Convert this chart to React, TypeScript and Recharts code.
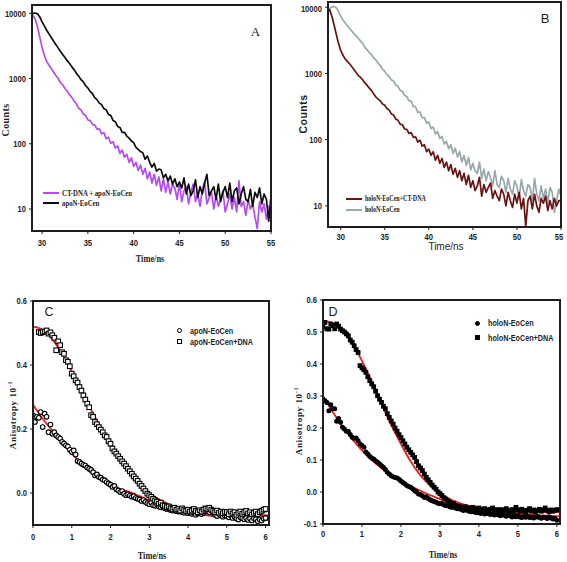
import {
  LineChart,
  Line,
  ComposedChart,
  Scatter,
  XAxis,
  YAxis,
} from 'recharts'

// ---- lifetime decays (panels A and B), 0.25 ns channels ----
const TIME = [
  28.5, 28.75,
  29, 29.25, 29.5, 29.75, 30, 30.25, 30.5, 30.75, 31, 31.25, 31.5, 31.75,
  32, 32.25, 32.5, 32.75, 33, 33.25, 33.5, 33.75, 34, 34.25, 34.5, 34.75,
  35, 35.25, 35.5, 35.75, 36, 36.25, 36.5, 36.75, 37, 37.25, 37.5, 37.75,
  38, 38.25, 38.5, 38.75, 39, 39.25, 39.5, 39.75, 40, 40.25, 40.5, 40.75,
  41, 41.25, 41.5, 41.75, 42, 42.25, 42.5, 42.75, 43, 43.25, 43.5, 43.75,
  44, 44.25, 44.5, 44.75, 45, 45.25, 45.5, 45.75, 46, 46.25, 46.5, 46.75,
  47, 47.25, 47.5, 47.75, 48, 48.25, 48.5, 48.75, 49, 49.25, 49.5, 49.75,
  50, 50.25, 50.5, 50.75, 51, 51.25, 51.5, 51.75, 52, 52.25, 52.5, 52.75,
  53, 53.25, 53.5, 53.75, 54, 54.25, 54.5, 54.75,
  55,
]

const DNA_APO = [
  9800, 9700,
  9300, 8100, 6200, 4300, 3000, 2250, 1830, 1600, 1430, 1260, 1110, 1010,
  870, 800, 705, 640, 560, 515, 450, 410, 350, 330, 285, 272,
  232, 226, 198, 193, 168, 170, 142, 148, 120, 126, 102, 107,
  86, 93, 71, 80, 62, 69, 52, 61, 45, 52, 39, 47,
  34, 42, 29, 37, 25, 34, 23, 31, 19, 29, 18, 26,
  17, 24, 21, 14, 25, 13, 19, 22, 12, 18, 24, 13,
  17, 11, 20, 26, 12, 15, 18, 10, 16, 11, 14, 19,
  9, 12, 17, 10, 15, 9, 27, 11, 13, 8, 14, 10,
  12, 7.5, 5, 13, 9, 12, 7, 11,
  7,
]

const APO = [
  9400, 9700,
  10000, 10100, 9800, 8800, 7400, 6400, 5500, 4850, 4250, 3750, 3330, 2950,
  2620, 2340, 2100, 1880, 1700, 1510, 1370, 1200, 1090, 960, 890, 780,
  715, 635, 585, 510, 475, 420, 398, 345, 332, 282, 272, 228,
  218, 184, 178, 150, 150, 131, 122, 110, 104, 88, 82, 76,
  73, 58, 65, 52, 44, 50, 38, 41, 40, 30, 34, 27,
  32, 24, 29, 22, 26, 21, 30, 17, 24, 16, 19, 28,
  15, 22, 17, 25, 34, 16, 19, 22, 14, 24, 13, 18,
  22, 15, 25, 13, 19, 21, 12, 17, 22, 14, 13, 20,
  11, 18, 15, 21, 12, 17, 14, 6.5,
  16,
]

const HOLO = [
  8800, 9600,
  10100, 10300, 9800, 8700, 7300, 6500, 5800, 5300, 4800, 4400, 4000, 3700,
  3400, 3080, 2820, 2480, 2280, 2060, 1920, 1720, 1600, 1420, 1320, 1150,
  1080, 960, 900, 800, 770, 670, 640, 555, 540, 465, 450, 385,
  385, 315, 315, 258, 262, 215, 215, 178, 185, 148, 155, 122,
  132, 104, 112, 86, 95, 73, 84, 62, 74, 55, 66, 46,
  58, 41, 54, 35, 44, 34, 31, 46, 26, 36, 24, 33,
  27, 20, 34, 21, 19, 28, 24, 16, 26, 18, 15, 24,
  20, 13, 25, 17, 14, 21, 19, 12, 26, 15, 12, 20,
  13, 18, 11, 19, 16, 8, 12, 18,
  14,
]

const HOLO_DNA = [
  8500, 9200,
  7300, 5400, 3900, 2850, 2230, 1900, 1660, 1520, 1400, 1270, 1150, 1030,
  930, 870, 800, 720, 660, 600, 550, 490, 440, 410, 385, 345,
  330, 295, 280, 245, 235, 205, 196, 172, 168, 145, 143, 124,
  128, 108, 110, 92, 98, 80, 84, 66, 72, 58, 66, 49,
  58, 44, 52, 38, 46, 34, 42, 30, 37, 27, 34, 24,
  31, 21, 29, 19, 24, 17, 20, 27, 14, 21, 16, 19,
  22, 13, 17, 14, 12, 18, 15, 10, 16, 12, 9.5, 15,
  11, 16, 9, 13, 4.9, 12, 14, 9, 15, 10, 8, 13,
  11, 14, 8.5, 12, 9, 13, 10, 12,
  12,
]

const TIME_TICKS = [30, 35, 40, 45, 50, 55]
const COUNT_TICKS = [10, 100, 1000, 10000]

// ---- anisotropy decays (panels C and D), 0.05 ns steps ----
const ANIS_T = [
  0, 0.05, 0.1, 0.15, 0.2, 0.25, 0.3, 0.35, 0.4, 0.45,
  0.5, 0.55, 0.6, 0.65, 0.7, 0.75, 0.8, 0.85, 0.9, 0.95,
  1, 1.05, 1.1, 1.15, 1.2, 1.25, 1.3, 1.35, 1.4, 1.45,
  1.5, 1.55, 1.6, 1.65, 1.7, 1.75, 1.8, 1.85, 1.9, 1.95,
  2, 2.05, 2.1, 2.15, 2.2, 2.25, 2.3, 2.35, 2.4, 2.45,
  2.5, 2.55, 2.6, 2.65, 2.7, 2.75, 2.8, 2.85, 2.9, 2.95,
  3, 3.05, 3.1, 3.15, 3.2, 3.25, 3.3, 3.35, 3.4, 3.45,
  3.5, 3.55, 3.6, 3.65, 3.7, 3.75, 3.8, 3.85, 3.9, 3.95,
  4, 4.05, 4.1, 4.15, 4.2, 4.25, 4.3, 4.35, 4.4, 4.45,
  4.5, 4.55, 4.6, 4.65, 4.7, 4.75, 4.8, 4.85, 4.9, 4.95,
  5, 5.05, 5.1, 5.15, 5.2, 5.25, 5.3, 5.35, 5.4, 5.45,
  5.5, 5.55, 5.6, 5.65, 5.7, 5.75, 5.8, 5.85, 5.9, 5.95,
  6,
]

const C_APO = [
  0.243, 0.222, 0.238, 0.235, 0.253, 0.206, 0.248, 0.238, 0.19, 0.214,
  0.185, 0.19, 0.18, 0.175, 0.17, 0.16, 0.155, 0.149, 0.145, 0.135,
  0.128, 0.133, 0.12, 0.1, 0.097, 0.092, 0.088, 0.086, 0.08, 0.076,
  0.072, 0.065, 0.055, 0.058, 0.05, 0.048, 0.042, 0.04, 0.034, 0.03,
  0.026, 0.019, 0.022, 0.012, 0.008, 0.003, 0.006, -0.002, -0.007, -0.004,
  -0.008, -0.012, -0.01, -0.016, -0.018, -0.02, -0.025, -0.022, -0.028, -0.032,
  -0.035, -0.03, -0.038, -0.04, -0.036, -0.043, -0.045, -0.042, -0.048, -0.05,
  -0.049, -0.053, -0.055, -0.05, -0.057, -0.058, -0.055, -0.06, -0.062, -0.058,
  -0.063, -0.06, -0.065, -0.062, -0.068, -0.064, -0.06, -0.066, -0.062, -0.058,
  -0.056, -0.06, -0.054, -0.063, -0.068, -0.072, -0.066, -0.07, -0.074, -0.07,
  -0.072, -0.076, -0.07, -0.078, -0.074, -0.08, -0.083, -0.076, -0.079, -0.082,
  -0.078, -0.084, -0.08, -0.086, -0.079, -0.082, -0.088, -0.083, -0.086, -0.08,
  -0.078,
]

const C_APO_DNA = [
  null, null, null, 0.503, 0.5, 0.503, 0.505, 0.508, 0.498, 0.502,
  0.493, 0.485, 0.446, 0.474, 0.462, 0.44, 0.435, 0.415, 0.41, 0.396,
  0.373, 0.365, 0.352, 0.345, 0.331, 0.32, 0.305, 0.292, 0.279, 0.268,
  0.243, 0.238, 0.222, 0.215, 0.206, 0.198, 0.19, 0.18, 0.175, 0.162,
  0.154, 0.139, 0.13, 0.123, 0.115, 0.107, 0.099, 0.092, 0.084, 0.076,
  0.068, 0.06, 0.052, 0.045, 0.038, 0.029, 0.022, 0.014, 0.006, -0.002,
  -0.007, -0.012, -0.018, -0.023, -0.027, -0.033, -0.03, -0.038, -0.04, -0.044,
  -0.042, -0.047, -0.05, -0.046, -0.052, -0.05, -0.055, -0.048, -0.053, -0.056,
  -0.052, -0.058, -0.055, -0.05, -0.056, -0.06, -0.054, -0.058, -0.052, -0.048,
  -0.05, -0.046, -0.052, -0.056, -0.06, -0.055, -0.062, -0.058, -0.063, -0.059,
  -0.06, -0.066, -0.058, -0.064, -0.06, -0.068, -0.062, -0.058, -0.065, -0.06,
  -0.056, -0.064, -0.06, -0.067, -0.062, -0.058, -0.066, -0.06, -0.056, -0.052,
  -0.05,
]

const D_HOLO = [
  0.29, 0.285, 0.28, 0.254, 0.273, 0.26, 0.26, 0.221, 0.23, 0.218,
  0.202, 0.197, 0.19, 0.19, 0.18, 0.171, 0.168, 0.169, 0.16, 0.15,
  0.145, 0.14, 0.125, 0.119, 0.112, 0.106, 0.103, 0.098, 0.093, 0.088,
  0.082, 0.077, 0.07, 0.062, 0.056, 0.051, 0.048, 0.045, 0.044, 0.04,
  0.034, 0.03, 0.026, 0.02, 0.017, 0.015, 0.01, 0.004, 0, -0.006,
  -0.008, -0.012, -0.017, -0.015, -0.02, -0.024, -0.027, -0.03, -0.032, -0.035,
  -0.037, -0.036, -0.04, -0.043, -0.042, -0.046, -0.048, -0.047, -0.05, -0.052,
  -0.052, -0.055, -0.058, -0.054, -0.058, -0.06, -0.062, -0.06, -0.063, -0.065,
  -0.064, -0.067, -0.065, -0.069, -0.066, -0.068, -0.07, -0.068, -0.072, -0.07,
  -0.071, -0.074, -0.07, -0.073, -0.076, -0.072, -0.074, -0.078, -0.075, -0.077,
  -0.074, -0.078, -0.08, -0.076, -0.079, -0.076, -0.08, -0.078, -0.081, -0.079,
  -0.076, -0.08, -0.082, -0.079, -0.08, -0.083, -0.078, -0.081, -0.084, -0.082,
  -0.088,
]

const D_HOLO_DNA = [
  0.517, 0.53, 0.51, 0.509, 0.525, 0.52, 0.51, 0.525, 0.518, 0.509,
  0.504, 0.5, 0.494, 0.488, 0.475, 0.468, 0.457, 0.445, 0.436, 0.395,
  0.388, 0.382, 0.374, 0.36, 0.348, 0.338, 0.329, 0.315, 0.301, 0.29,
  0.28, 0.268, 0.26, 0.245, 0.233, 0.222, 0.212, 0.2, 0.19, 0.179,
  0.17, 0.16, 0.15, 0.14, 0.132, 0.124, 0.116, 0.108, 0.095, 0.082,
  0.075, 0.067, 0.056, 0.046, 0.038, 0.03, 0.022, 0.015, 0.009, 0,
  -0.005, -0.011, -0.018, -0.022, -0.027, -0.032, -0.037, -0.035, -0.042, -0.046,
  -0.044, -0.048, -0.05, -0.046, -0.052, -0.05, -0.055, -0.048, -0.053, -0.056,
  -0.05, -0.054, -0.058, -0.052, -0.056, -0.06, -0.054, -0.05, -0.057, -0.055,
  -0.06, -0.055, -0.062, -0.056, -0.052, -0.058, -0.062, -0.055, -0.06, -0.048,
  -0.056, -0.06, -0.054, -0.058, -0.062, -0.057, -0.052, -0.06, -0.056, -0.062,
  -0.058, -0.054, -0.06, -0.056, -0.05, -0.058, -0.062, -0.056, -0.06, -0.058,
  -0.055,
]

// fitted curves
const FIT_T_C = [0, 0.25, 0.5, 0.75, 1, 1.25, 1.5, 1.75, 2, 2.25, 2.5, 2.75, 3, 3.25, 3.5, 4, 4.5, 5, 5.5, 6.09]
const FIT_C_APO = [0.276, 0.232, 0.195, 0.158, 0.123, 0.092, 0.063, 0.042, 0.024, 0.012, 0.003, -0.01, -0.023, -0.034, -0.044, -0.059, -0.07, -0.077, -0.081, -0.085]
const FIT_C_APO_DNA = [0.52, 0.51, 0.48, 0.435, 0.38, 0.32, 0.26, 0.205, 0.15, 0.1, 0.06, 0.025, 0, -0.02, -0.035, -0.052, -0.06, -0.065, -0.068, -0.07]

const FIT_T_D = [0, 0.25, 0.5, 0.75, 1, 1.25, 1.5, 1.75, 2, 2.25, 2.5, 2.75, 3, 3.25, 3.5, 4, 4.5, 5, 5.5, 6.08]
const FIT_D_HOLO = [0.3, 0.25, 0.205, 0.165, 0.13, 0.1, 0.075, 0.053, 0.035, 0.018, 0.004, -0.01, -0.022, -0.032, -0.04, -0.053, -0.062, -0.068, -0.072, -0.076]
const FIT_D_HOLO_DNA = [0.535, 0.528, 0.505, 0.465, 0.41, 0.345, 0.275, 0.21, 0.15, 0.095, 0.052, 0.02, -0.005, -0.022, -0.035, -0.05, -0.057, -0.06, -0.062, -0.063]

const ANIS_X_TICKS = [0, 1, 2, 3, 4, 5, 6]
const C_Y_TICKS = [0, 0.2, 0.4, 0.6]
const D_Y_TICKS = [-0.1, 0, 0.1, 0.2, 0.3, 0.4, 0.5, 0.6]

const SERIF = "'Liberation Serif', 'Times New Roman', serif"
const SANS = "'Liberation Sans', Arial, sans-serif"
const INK = '#1e1e1e'
const FIT_RED = '#f21c1c'
const X_AXIS_H = 25

// panel boxes: where each chart sits and how its plot area is inset
const PANEL_A = { left: 0, top: 0, width: 283, height: 280, yWidth: 32, margin: { top: 5, right: 12, bottom: 24, left: 0 } }
const PANEL_B = { left: 283, top: 0, width: 284, height: 280, yWidth: 45, margin: { top: 2, right: 6, bottom: 28, left: 0 } }
const PANEL_C = { left: 0, top: 280, width: 283, height: 282, yWidth: 33, margin: { top: 21, right: 14, bottom: 12, left: 0 } }
const PANEL_D = { left: 283, top: 280, width: 284, height: 282, yWidth: 40, margin: { top: 20, right: 7, bottom: 13, left: 0 } }

const axisLine = { stroke: INK, strokeWidth: 1.6 }
const tickLine = { stroke: INK, strokeWidth: 1 }

function pairs(ts: number[], vs: (number | null)[]) {
  return ts.map((t, i) => ({ t, v: vs[i] })).filter((p) => p.v != null)
}

// condensed bold sans tick labels (the figure uses an Arial Narrow look)
const yTick = (fmt: (v: number) => string) => (p: any) => (
  <g transform={`translate(${p.x},${p.y})`}>
    <text textAnchor="end" dy="0.35em" transform="scale(0.8,1)" fontSize={9.5} fontWeight={700} fill={INK} fontFamily={SANS}>
      {fmt(p.payload.value)}
    </text>
  </g>
)
const xTick = (p: any) => (
  <g transform={`translate(${p.x},${p.y})`}>
    <text textAnchor="middle" dy="0.71em" transform="scale(0.8,1)" fontSize={9.5} fontWeight={700} fill={INK} fontFamily={SANS}>
      {p.payload.value}
    </text>
  </g>
)

function Text({ x, y, rot, sx, style, children }: any) {
  return (
    <div
      style={{
        position: 'absolute',
        left: x,
        top: y,
        transform: `translate(-50%, -50%)${rot ? ` rotate(${rot}deg)` : ''}${sx ? ` scaleX(${sx})` : ''}`,
        whiteSpace: 'nowrap',
        lineHeight: 1,
        color: INK,
        ...style,
      }}
    >
      {children}
    </div>
  )
}

function KeyText({ x, y, family, size, sx, children }: any) {
  return (
    <div
      style={{
        position: 'absolute',
        left: x,
        top: y,
        transform: `translateY(-50%) scaleX(${sx})`,
        transformOrigin: 'left center',
        whiteSpace: 'nowrap',
        lineHeight: 1,
        fontFamily: family,
        fontWeight: 700,
        fontSize: size,
        color: INK,
      }}
    >
      {children}
    </div>
  )
}

function LineKey({ x, y, color, label, size, sx }: any) {
  return (
    <>
      <div style={{ position: 'absolute', left: x, top: y - 1.1, width: 16, height: 2.2, background: color }} />
      <KeyText x={x + 19} y={y} family={SERIF} size={size} sx={sx}>{label}</KeyText>
    </>
  )
}

function MarkKey({ x, y, shape, filled, label }: any) {
  const s = 5
  return (
    <>
      <div
        style={{
          position: 'absolute',
          left: x - s / 2,
          top: y - s / 2,
          width: s,
          height: s,
          boxSizing: 'border-box',
          borderRadius: shape === 'circle' ? '50%' : 0,
          border: '1.2px solid #000',
          background: filled ? '#000' : '#fff',
        }}
      />
      <KeyText x={x + 11} y={y} family={SANS} size={9} sx={0.8}>{label}</KeyText>
    </>
  )
}

// closed box round the plot area, laid over the chart
function PlotBox({ panel }: any) {
  const { left, top, width, height, yWidth, margin } = panel
  const x0 = left + margin.left + yWidth
  const y0 = top + margin.top
  const w = width - margin.left - margin.right - yWidth
  const h = height - margin.top - margin.bottom - X_AXIS_H
  return (
    <div
      style={{
        position: 'absolute',
        left: x0 - 1,
        top: y0 - 1,
        width: w + 2,
        height: h + 2,
        boxSizing: 'border-box',
        border: `2px solid ${INK}`,
        pointerEvents: 'none',
      }}
    />
  )
}

const openCircle = (p: any) => <circle cx={p.cx} cy={p.cy} r={2.3} fill="#fff" stroke="#000" strokeWidth={1.1} />
const openSquare = (p: any) => (
  <rect x={p.cx - 2.3} y={p.cy - 2.3} width={4.6} height={4.6} fill="#fff" stroke="#000" strokeWidth={1.1} />
)
const dotCircle = (p: any) => <circle cx={p.cx} cy={p.cy} r={2.5} fill="#000" />
const dotSquare = (p: any) => <rect x={p.cx - 2.4} y={p.cy - 2.4} width={4.8} height={4.8} fill="#000" />

function DecayPanel({ panel, xDomain, yDomain, first, second, xTickMargin }: any) {
  const { left, top, width, height, margin, yWidth } = panel
  const rows = TIME.map((t, i) => ({ t, a: first.values[i], b: second.values[i] }))
  return (
    <div style={{ position: 'absolute', left, top, width, height }}>
      <LineChart width={width} height={height} data={rows} margin={margin}>
        <XAxis
          dataKey="t"
          type="number"
          domain={xDomain}
          allowDataOverflow
          ticks={TIME_TICKS}
          tick={xTick}
          tickLine={tickLine}
          tickSize={3}
          tickMargin={xTickMargin}
          axisLine={axisLine}
          height={X_AXIS_H}
        />
        <YAxis
          type="number"
          scale="log"
          domain={yDomain}
          allowDataOverflow
          ticks={COUNT_TICKS}
          tick={yTick((v) => String(v))}
          tickLine={tickLine}
          tickSize={3}
          tickMargin={3}
          axisLine={axisLine}
          width={yWidth}
        />
        <Line dataKey="a" stroke={first.color} strokeWidth={1.7} dot={false} isAnimationActive={false} strokeLinejoin="round" />
        <Line dataKey="b" stroke={second.color} strokeWidth={1.7} dot={false} isAnimationActive={false} strokeLinejoin="round" />
      </LineChart>
    </div>
  )
}

function AnisPanel({ panel, xMax, yTicks, pts1, pts2, fit1, fit2, shape1, shape2, xTickMargin }: any) {
  const { left, top, width, height, margin, yWidth } = panel
  return (
    <div style={{ position: 'absolute', left, top, width, height }}>
      <ComposedChart width={width} height={height} margin={margin}>
        <XAxis
          dataKey="t"
          type="number"
          domain={[0, xMax]}
          allowDataOverflow
          ticks={ANIS_X_TICKS}
          tick={xTick}
          tickLine={tickLine}
          tickSize={3}
          tickMargin={xTickMargin}
          axisLine={axisLine}
          height={X_AXIS_H}
        />
        <YAxis
          type="number"
          domain={[-0.1, 0.6]}
          allowDataOverflow
          ticks={yTicks}
          tick={yTick((v) => v.toFixed(1))}
          tickLine={tickLine}
          tickSize={3}
          tickMargin={3}
          axisLine={axisLine}
          width={yWidth}
        />
        <Scatter data={pts1} dataKey="v" shape={shape1} isAnimationActive={false} />
        <Scatter data={pts2} dataKey="v" shape={shape2} isAnimationActive={false} />
        <Line data={fit1} dataKey="v" type="monotone" stroke={FIT_RED} strokeWidth={1.8} dot={false} isAnimationActive={false} />
        <Line data={fit2} dataKey="v" type="monotone" stroke={FIT_RED} strokeWidth={1.8} dot={false} isAnimationActive={false} />
      </ComposedChart>
    </div>
  )
}

export default function App() {
  const anisoLabel = (
    <>
      Anisotropy 10<sup style={{ fontSize: '0.7em' }}>-1</sup>
    </>
  )
  const serifTitle = { fontFamily: SERIF, fontWeight: 700, fontSize: 9.5 }
  return (
    <div style={{ position: 'absolute', left: 0, top: 0, width: 567, height: 562, background: '#fff', overflow: 'hidden' }}>
      {/* A */}
      <DecayPanel
        panel={PANEL_A}
        xDomain={[28.9, 55]}
        yDomain={[4.6, 13400]}
        xTickMargin={5}
        first={{ values: DNA_APO, color: '#b24cf0' }}
        second={{ values: APO, color: '#0d0d0d' }}
      />
      <PlotBox panel={PANEL_A} />
      <Text x={5.5} y={120} rot={-90} style={{ fontFamily: SERIF, fontWeight: 700, fontSize: 10, letterSpacing: 0.4 }}>Counts</Text>
      <Text x={150} y={260} sx={0.88} style={serifTitle}>Time/ns</Text>
      <Text x={255.5} y={31} style={{ fontFamily: SERIF, fontSize: 13 }}>A</Text>
      <LineKey x={43} y={192.7} color="#b24cf0" label="CT-DNA + apoN-EoCen" size={8.5} sx={0.8} />
      <LineKey x={43} y={203.3} color="#0d0d0d" label="apoN-EoCen" size={8.5} sx={0.8} />

      {/* B */}
      <DecayPanel
        panel={PANEL_B}
        xDomain={[28.56, 55]}
        yDomain={[4.8, 12000]}
        xTickMargin={3}
        first={{ values: HOLO, color: '#98a9ab' }}
        second={{ values: HOLO_DNA, color: '#6a1313' }}
      />
      <PlotBox panel={PANEL_B} />
      <Text x={303} y={114} rot={-90} style={{ fontFamily: SANS, fontWeight: 700, fontSize: 10.5, letterSpacing: 0.5 }}>Counts</Text>
      <Text x={446} y={246.5} style={{ fontFamily: SANS, fontSize: 10 }}>Time/ns</Text>
      <Text x={545} y={17.5} style={{ fontFamily: SANS, fontSize: 13 }}>B</Text>
      <LineKey x={346} y={199} color="#6a1313" label="holoN-EoCen+CT-DNA" size={7.5} sx={0.8} />
      <LineKey x={346} y={209.7} color="#98a9ab" label="holoN-EoCen" size={7.5} sx={0.8} />

      {/* C */}
      <AnisPanel
        panel={PANEL_C}
        xMax={6.09}
        yTicks={C_Y_TICKS}
        xTickMargin={5}
        pts1={pairs(ANIS_T, C_APO)}
        pts2={pairs(ANIS_T, C_APO_DNA)}
        fit1={pairs(FIT_T_C, FIT_C_APO)}
        fit2={pairs(FIT_T_C, FIT_C_APO_DNA)}
        shape1={openCircle}
        shape2={openSquare}
      />
      <PlotBox panel={PANEL_C} />
      <Text x={11.7} y={415} rot={-90} style={{ fontFamily: SERIF, fontWeight: 700, fontSize: 9, letterSpacing: 0.6 }}>{anisoLabel}</Text>
      <Text x={152} y={556.5} sx={0.88} style={serifTitle}>Time/ns</Text>
      <Text x={49} y={312} style={{ fontFamily: SANS, fontSize: 12.5 }}>C</Text>
      <MarkKey x={179} y={330.7} shape="circle" label="apoN-EoCen" />
      <MarkKey x={179} y={341.7} shape="square" label="apoN-EoCen+DNA" />

      {/* D */}
      <AnisPanel
        panel={PANEL_D}
        xMax={6.08}
        yTicks={D_Y_TICKS}
        xTickMargin={3}
        pts1={pairs(ANIS_T, D_HOLO)}
        pts2={pairs(ANIS_T, D_HOLO_DNA)}
        fit1={pairs(FIT_T_D, FIT_D_HOLO)}
        fit2={pairs(FIT_T_D, FIT_D_HOLO_DNA)}
        shape1={dotCircle}
        shape2={dotSquare}
      />
      <PlotBox panel={PANEL_D} />
      <Text x={298} y={421} rot={-90} style={{ fontFamily: SERIF, fontWeight: 700, fontSize: 9, letterSpacing: 0.6 }}>{anisoLabel}</Text>
      <Text x={443} y={556} sx={0.88} style={serifTitle}>Time/ns</Text>
      <Text x={333} y={312} style={{ fontFamily: SANS, fontSize: 12.5 }}>D</Text>
      <MarkKey x={477.3} y={323.3} shape="circle" filled label="holoN-EoCen" />
      <MarkKey x={477.3} y={337.7} shape="square" filled label="holoN-EoCen+DNA" />
    </div>
  )
}
